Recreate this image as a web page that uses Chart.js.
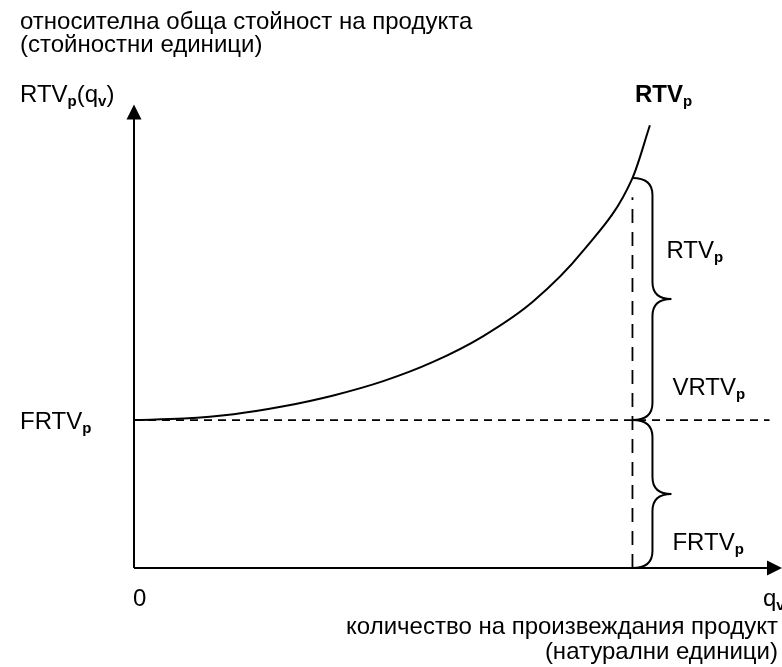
<!DOCTYPE html>
<html>
<head>
<meta charset="utf-8">
<script src="https://cdn.jsdelivr.net/npm/chart.js@4/dist/chart.umd.min.js"></script>
<style>
  html, body { margin: 0; padding: 0; background: #fff; }
  #wrap { width: 782px; height: 667px; }
</style>
</head>
<body>
<div id="wrap"><canvas id="chart" width="782" height="667"></canvas></div>
<script>
// quantity produced (q_v) and relative total value RTV_p(q_v)
const qv = [0, 1, 2, 3, 4, 5, 6, 7, 8, 9, 10, 10.35];
const rtv = [3.0, 3.03, 3.12, 3.28, 3.50, 3.79, 4.18, 4.70, 5.40, 6.42, 7.91, 8.98];

// fixed part and the chosen quantity
const frtvLevel = 3;
const qChosen = 10;
const frtvLineEnd = 12.75;
const qLineTop = 7.52;

// axis extents
const xAxisEnd = 13;
const yAxisEnd = 9.4;

const FONT = "'Liberation Sans', Arial, sans-serif";

// draw text made of parts, some of them bold subscripts
function drawParts(ctx, x, y, parts) {
  const fontOf = p => p.sub ? 'bold 15px ' + FONT : (p.bold ? 'bold ' : '') + '24px ' + FONT;
  let cx = x;
  parts.forEach(p => {
    ctx.font = fontOf(p);
    ctx.fillText(p.t, cx, p.sub ? y + 4 : y);
    cx += ctx.measureText(p.t).width;
  });
}

function drawBrace(ctx, x, yTop, yBot) {
  const w = 20, tip = 39, r = 17;
  const mid = (yTop + yBot) / 2;
  ctx.beginPath();
  ctx.moveTo(x, yTop);
  ctx.quadraticCurveTo(x + w, yTop, x + w, yTop + r);
  ctx.lineTo(x + w, mid - r);
  ctx.quadraticCurveTo(x + w, mid, x + tip, mid);
  ctx.quadraticCurveTo(x + w, mid, x + w, mid + r);
  ctx.lineTo(x + w, yBot - r);
  ctx.quadraticCurveTo(x + w, yBot, x, yBot);
  ctx.stroke();
}

const annotations = {
  id: 'annotations',
  afterDraw(chart) {
    const ctx = chart.ctx;
    const sx = chart.scales.x, sy = chart.scales.y;
    const x0 = sx.getPixelForValue(0), y0 = sy.getPixelForValue(0);
    ctx.save();
    ctx.fillStyle = '#000';
    ctx.strokeStyle = '#000';

    // arrow heads
    const yTip = sy.getPixelForValue(yAxisEnd);
    ctx.beginPath();
    ctx.moveTo(x0, yTip);
    ctx.lineTo(x0 - 7.5, yTip + 15);
    ctx.lineTo(x0 + 7.5, yTip + 15);
    ctx.closePath();
    ctx.fill();
    const xTip = sx.getPixelForValue(xAxisEnd);
    ctx.beginPath();
    ctx.moveTo(xTip, y0);
    ctx.lineTo(xTip - 15, y0 - 7.5);
    ctx.lineTo(xTip - 15, y0 + 7.5);
    ctx.closePath();
    ctx.fill();

    // braces
    const qx = sx.getPixelForValue(qChosen);
    const yCurve = sy.getPixelForValue(rtv[qv.indexOf(qChosen)]);
    const yF = sy.getPixelForValue(frtvLevel);
    ctx.lineWidth = 2;
    drawBrace(ctx, qx, yCurve, yF);
    drawBrace(ctx, qx, yF, y0);

    // texts
    ctx.textBaseline = 'alphabetic';
    ctx.font = '24px ' + FONT;
    ctx.fillText('относителна обща стойност на продукта', 20, 29);
    ctx.fillText('(стойностни единици)', 20, 52);

    drawParts(ctx, 20, 102, [{t: 'RTV'}, {t: 'p', sub: true}, {t: '(q'}, {t: 'v', sub: true}, {t: ')'}]);
    drawParts(ctx, 20, yF + 9, [{t: 'FRTV'}, {t: 'p', sub: true}]);
    drawParts(ctx, 635, 102, [{t: 'RTV', bold: true}, {t: 'p', sub: true}]);
    drawParts(ctx, qx + 34, 258, [{t: 'RTV'}, {t: 'p', sub: true}]);
    drawParts(ctx, qx + 40, 395, [{t: 'VRTV'}, {t: 'p', sub: true}]);
    drawParts(ctx, qx + 40, 550, [{t: 'FRTV'}, {t: 'p', sub: true}]);

    ctx.font = '24px ' + FONT;
    ctx.fillText('0', x0 - 1, 606);
    drawParts(ctx, 763, 606, [{t: 'q'}, {t: 'v', sub: true}]);

    ctx.textAlign = 'right';
    ctx.font = '24px ' + FONT;
    ctx.fillText('количество на произвеждания продукт', 778, 634);
    ctx.fillText('(натурални единици)', 778, 659);
    ctx.restore();
  }
};

function pts(xs, ys) {
  return xs.map((x, i) => ({x: x, y: ys[i]}));
}

const lineBase = {
  showLine: true,
  borderColor: '#000',
  borderWidth: 2,
  pointRadius: 0,
  fill: false,
  clip: false
};

new Chart(document.getElementById('chart'), {
  type: 'scatter',
  data: {
    datasets: [
      Object.assign({}, lineBase, {
        label: 'RTVp',
        data: pts(qv, rtv),
        cubicInterpolationMode: 'monotone'
      }),
      Object.assign({}, lineBase, {
        label: 'FRTVp',
        data: pts([0, frtvLineEnd], [frtvLevel, frtvLevel]),
        borderDash: [8, 6],
        borderWidth: 1.8
      }),
      Object.assign({}, lineBase, {
        label: 'q',
        data: pts([qChosen, qChosen], [0, qLineTop]),
        borderDash: [14, 9],
        borderWidth: 1.8
      }),
      Object.assign({}, lineBase, {
        label: 'x axis',
        data: pts([0, xAxisEnd - 0.2], [0, 0])
      }),
      Object.assign({}, lineBase, {
        label: 'y axis',
        data: pts([0, 0], [0, yAxisEnd - 0.2])
      })
    ]
  },
  options: {
    responsive: false,
    animation: false,
    layout: { padding: { left: 134, right: 0, top: 75, bottom: 99 } },
    plugins: {
      legend: { display: false },
      tooltip: { enabled: false }
    },
    scales: {
      x: { type: 'linear', min: 0, max: xAxisEnd, display: false },
      y: { type: 'linear', min: 0, max: 10, display: false }
    }
  },
  plugins: [annotations]
});
</script>
</body>
</html>
